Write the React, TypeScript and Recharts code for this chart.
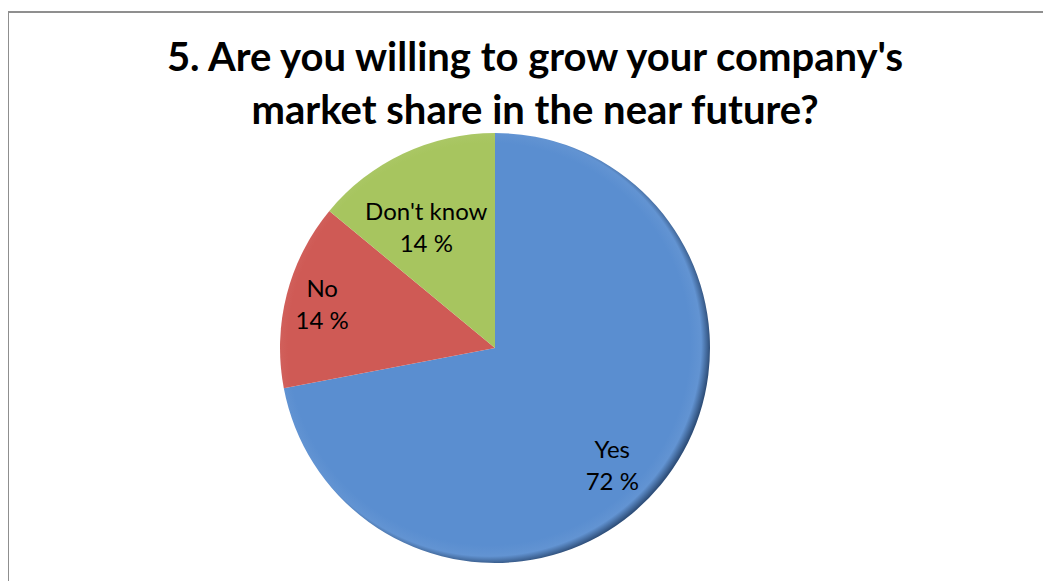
import { PieChart, Pie, Cell } from 'recharts'

const categories = ['Yes', 'No', "Don't know"]
const shares = [72, 14, 14]

const COLORS = ['#5a8ed0', '#cf5a55', '#a7c55f']
const RIMS = ['#2f4f7a', '#7a2e2b', '#5d7330']

// label placement nudges (radius as fraction of the pie radius, angle in degrees)
const LABEL_POS = [
  { r: 0.8, a: -7.4 },
  { r: 0.82, a: 3 },
  { r: 0.61, a: 6.4 },
]

const W = 1043
const H = 573
const CX = 487
const CY = 340
const R = 215
const RAD = Math.PI / 180

const data = categories.map((name, i) => ({ name, value: shares[i] }))

function renderLabel(props: any) {
  const { cx, cy, midAngle, outerRadius, index, name, value } = props
  const pos = LABEL_POS[index]
  const ang = (midAngle + pos.a) * RAD
  const x = cx + outerRadius * pos.r * Math.cos(ang)
  const y = cy - outerRadius * pos.r * Math.sin(ang)
  return (
    <text
      x={x}
      y={y}
      textAnchor="middle"
      fill="#000"
      fontFamily="Lato, 'Open Sans', sans-serif"
      fontSize={24}
    >
      <tspan x={x} dy={-16}>
        {name}
      </tspan>
      <tspan x={x} dy={32}>
        {value} %
      </tspan>
    </text>
  )
}

export default function App() {
  return (
    <div style={{ position: 'relative', width: W, height: H, overflow: 'hidden', background: '#fff' }}>
      <div
        style={{
          position: 'absolute',
          left: -1,
          top: 3,
          width: 1200,
          height: 800,
          border: '2px solid #8f8f8f',
        }}
      />
      <div
        style={{
          position: 'absolute',
          left: 0,
          top: 22,
          width: 1054,
          textAlign: 'center',
          fontFamily: "Lato, 'Open Sans', sans-serif",
          fontWeight: 700,
          fontSize: 40,
          lineHeight: '53px',
          color: '#000',
        }}
      >
        5. Are you willing to grow your company's
        <br />
        market share in the near future?
      </div>
      <div style={{ position: 'absolute', left: 0, top: 0 }}>
        <PieChart width={W} height={H} margin={{ top: 0, right: 0, bottom: 0, left: 0 }}>
          <defs>
            {COLORS.map((c, i) => (
              <radialGradient
                key={i}
                id={`slice${i}`}
                gradientUnits="userSpaceOnUse"
                cx={CX - 6}
                cy={CY - 4}
                r={R + 6}
              >
                <stop offset="0%" stopColor={c} />
                <stop offset="91%" stopColor={c} />
                <stop offset="96%" stopColor={c} stopOpacity={0.95} />
                <stop offset="100%" stopColor={RIMS[i]} />
              </radialGradient>
            ))}
          </defs>
          <Pie
            data={data}
            dataKey="value"
            nameKey="name"
            cx={CX}
            cy={CY}
            outerRadius={R}
            startAngle={90}
            endAngle={-270}
            stroke="none"
            label={renderLabel}
            labelLine={false}
            isAnimationActive={false}
          >
            {data.map((d, i) => (
              <Cell key={d.name} fill={`url(#slice${i})`} />
            ))}
          </Pie>
        </PieChart>
      </div>
    </div>
  )
}
